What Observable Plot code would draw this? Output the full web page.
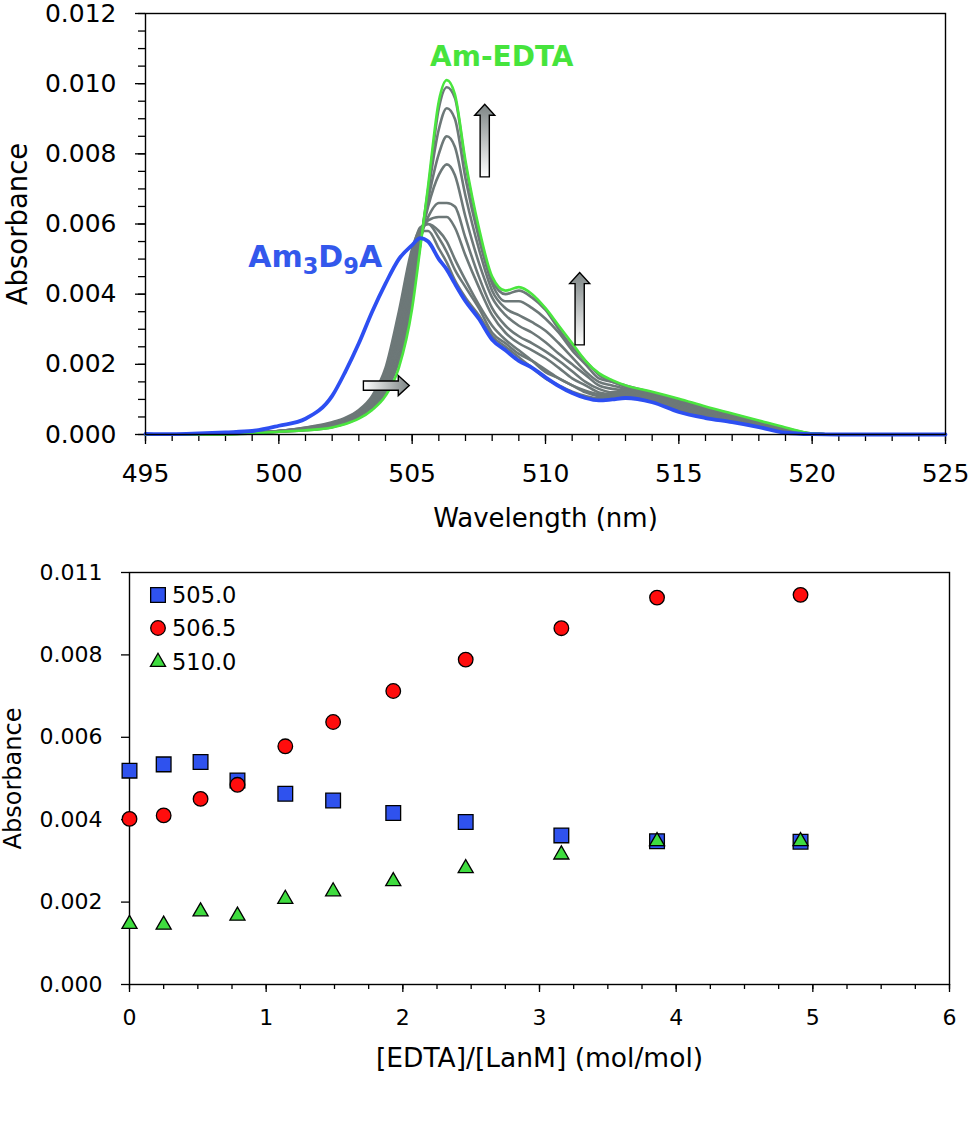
<!DOCTYPE html>
<html>
<head>
<meta charset="utf-8">
<script src="https://cdn.jsdelivr.net/npm/d3@7"></script>
<script src="https://cdn.jsdelivr.net/npm/@observablehq/plot@0.6"></script>
<style>
  html, body { margin: 0; padding: 0; background: #fff; }
  #wrap { position: relative; width: 969px; height: 1124px; background: #fff; font-family: "DejaVu Sans", sans-serif; }
  #wrap svg { display: block; }
  .legend { position: absolute; left: 148px; top: 578px; font-family: "DejaVu Sans", sans-serif; font-size: 22.5px; color: #000; }
  .legend .row { display: flex; align-items: center; height: 33.5px; }
  .legend svg { margin-right: 4px; }
</style>
</head>
<body>
<div id="wrap"></div>
<script>
// ---------- Top panel: spectra ----------
const wavelengths = [495,496,497,498,499,500,501,502,502.5,503,503.5,504,504.5,505,505.3,505.6,506,506.3,506.6,507,507.5,508,508.5,509,509.5,510,510.5,511,511.5,512,512.5,513,514,515,516,517,518,519,520,521,522,523,525];

const specAm3D9A = [0.00002,0.00001,0.00003,0.00006,0.0001,0.00025,0.00045,0.0011,0.0018,0.0026,0.0035,0.0043,0.005,0.0054,0.0056,0.0055,0.005,0.0047,0.0043,0.0038,0.0033,0.0027,0.0024,0.0021,0.0019,0.00163,0.00138,0.00118,0.00104,0.00097,0.001,0.00104,0.00092,0.00064,0.00047,0.00035,0.00021,0.00005,0.00001,0,0,0,0];
const specAmEDTA = [0,0,0,0,0.00003,0.00008,0.00012,0.0002,0.0003,0.00045,0.0007,0.0011,0.0019,0.0036,0.0053,0.0071,0.0095,0.0101,0.0097,0.0078,0.0059,0.0045,0.0041,0.0042,0.004,0.0036,0.0031,0.0026,0.0021,0.00175,0.00155,0.0014,0.00122,0.00102,0.0008,0.0006,0.0004,0.0002,0.00003,0,0,0,0];
const specG1 = [0,0,0,0.00002,0.00005,0.0001,0.0002,0.00035,0.00048,0.0007,0.0011,0.0019,0.0035,0.0053,0.0058,0.0058,0.0053,0.0049,0.0044,0.0039,0.0034,0.0028,0.0025,0.0022,0.0019,0.0016,0.0014,0.00122,0.0011,0.00103,0.00105,0.00108,0.00096,0.0007,0.0005,0.00038,0.00024,0.00008,0.00001,0,0,0,0];
const specG2 = [0,0,0,0.00002,0.00005,0.0001,0.00019,0.00033,0.00045,0.00067,0.00105,0.0018,0.0033,0.0052,0.0059,0.006,0.0056,0.0052,0.0047,0.0042,0.0036,0.0029,0.0026,0.0023,0.0021,0.00185,0.0016,0.0014,0.0012,0.0011,0.0011,0.0011,0.00098,0.00074,0.00054,0.0004,0.00026,0.0001,0.00002,0,0,0,0];
const specG3 = [0,0,0,0.00002,0.00005,0.0001,0.00018,0.00031,0.00043,0.00064,0.001,0.0017,0.0031,0.005,0.0058,0.006,0.0058,0.0055,0.005,0.0044,0.0037,0.0031,0.0027,0.0024,0.0021,0.00178,0.0016,0.0014,0.00125,0.00115,0.00112,0.00112,0.001,0.00078,0.00057,0.00042,0.00028,0.0001,0.00002,0,0,0,0];
const specG4 = [0,0,0,0.00002,0.00005,0.0001,0.00017,0.0003,0.00041,0.0006,0.00095,0.0016,0.0029,0.0048,0.0057,0.0061,0.0062,0.0062,0.0059,0.0051,0.0042,0.0034,0.0029,0.0026,0.0024,0.00218,0.0019,0.0016,0.0014,0.0012,0.00115,0.00115,0.00105,0.00082,0.0006,0.00045,0.0003,0.00011,0.00002,0,0,0,0];
const specG5 = [0,0,0,0.00002,0.00005,0.0001,0.00016,0.00028,0.00039,0.00058,0.0009,0.0015,0.0027,0.0046,0.0056,0.0062,0.0066,0.0066,0.0065,0.0056,0.0045,0.0036,0.0031,0.0028,0.0026,0.00237,0.0021,0.0018,0.0015,0.0013,0.0012,0.0012,0.0011,0.00086,0.00064,0.00048,0.00031,0.00012,0.00002,0,0,0,0];
const specG6 = [0,0,0,0.00002,0.00004,0.00009,0.00015,0.00026,0.00037,0.00055,0.00085,0.0014,0.0025,0.0044,0.0055,0.0065,0.0074,0.0077,0.0074,0.0062,0.0049,0.0039,0.0034,0.0031,0.0029,0.00263,0.0023,0.002,0.0017,0.0014,0.0013,0.00125,0.00112,0.0009,0.00067,0.0005,0.00032,0.00013,0.00002,0,0,0,0];
const specG7 = [0,0,0,0.00002,0.00004,0.00009,0.00014,0.00024,0.00035,0.00052,0.0008,0.0013,0.0023,0.0042,0.0055,0.0067,0.008,0.0085,0.0082,0.0068,0.0053,0.0041,0.0036,0.0034,0.0032,0.00296,0.0026,0.0022,0.0018,0.0015,0.0014,0.0013,0.00115,0.00094,0.0007,0.00052,0.00034,0.00014,0.00002,0,0,0,0];
const specG8 = [0,0,0,0.00001,0.00004,0.00008,0.00013,0.00022,0.00033,0.0005,0.00077,0.00125,0.0022,0.004,0.0054,0.0069,0.0087,0.0093,0.009,0.0073,0.0056,0.0043,0.0038,0.0038,0.0036,0.0033,0.0029,0.0024,0.002,0.0016,0.0015,0.00135,0.00118,0.00097,0.00074,0.00055,0.00036,0.00015,0.00002,0,0,0,0];
const specG9 = [0,0,0,0.00001,0.00003,0.00008,0.00012,0.00021,0.00031,0.00048,0.00074,0.0012,0.0021,0.0038,0.0054,0.007,0.0093,0.0099,0.0096,0.0077,0.0058,0.0044,0.004,0.0041,0.0039,0.00355,0.003,0.0025,0.0021,0.0017,0.0015,0.0014,0.0012,0.001,0.00077,0.00058,0.00038,0.00018,0.00003,0,0,0,0];

const graySpectra = [specG1, specG2, specG3, specG4, specG5, specG6, specG7, specG8, specG9];

const topYMajor = [0, 0.002, 0.004, 0.006, 0.008, 0.010, 0.012];
const topYMinor = d3.range(0, 0.01201, 0.0005);
const topXMajor = [495, 500, 505, 510, 515, 520, 525];
const topXMinor = d3.range(495, 525.01, 1);

// annotations (data units); subscript parts flagged with 1
const labelParts = [[["Am-EDTA", 0]], [["Am", 0], ["3", 1], ["D", 0], ["9", 1], ["A", 0]]];
const labelX = [505.69, 498.87];
const labelY = [0.0105, 0.00477];
const labelColor = ["#46e43c", "#3358ec"];
const labelSize = [28, 30];

const arrowTailX = [507.74, 511.3, 503.19];
const arrowTailY = [0.00733, 0.00254, 0.00138];
const arrowTipX = [507.74, 511.3, 504.91];
const arrowTipY = [0.0094, 0.0046, 0.00138];

// ---------- Bottom panel: titration ----------
const ratio = [0, 0.25, 0.52, 0.79, 1.14, 1.49, 1.93, 2.46, 3.16, 3.86, 4.91];
const abs505 = [0.00545, 0.00561, 0.00567, 0.0052, 0.00486, 0.00469, 0.00437, 0.00414, 0.0038, 0.00365, 0.00364];
const abs5065 = [0.00422, 0.00431, 0.00473, 0.00509, 0.00607, 0.00669, 0.00748, 0.00828, 0.00908, 0.00986, 0.00993];
const abs510 = [0.00154, 0.00152, 0.00186, 0.00175, 0.00218, 0.00237, 0.00263, 0.00296, 0.00331, 0.00365, 0.00365];

const seriesNames = ["505.0", "506.5", "510.0"];
const seriesSymbols = ["square", "circle", "triangle"];
const seriesFill = ["#2f52ee", "#ff0d0d", "#3fdc3f"];
const seriesR = [8.3, 7.3, 5.6];

const botYTicks = [0, 0.0021, 0.0042, 0.0063, 0.0084, 0.0105];
const botYLabels = ["0.000", "0.002", "0.004", "0.006", "0.008", "0.011"];
const botXTicks = [0, 1, 2, 3, 4, 5, 6];
const botXMinor = d3.range(0, 6.001, 0.25);

(function () {
  function rows(values, name) {
    return wavelengths.map((w, i) => ({w, a: values[i], series: name})).filter(d => d.a != null);
  }
  const grayRows = graySpectra.flatMap((s, k) => rows(s, "G" + (k + 1)));
  const greenRows = rows(specAmEDTA, "Am-EDTA");
  const blueRows = rows(specAm3D9A, "Am3D9A");
  const labels = labelParts.map((p, i) => ({p, x: labelX[i], y: labelY[i], c: labelColor[i], s: labelSize[i]}));
  const arrows = arrowTailX.map((x, i) => ({x1: x, y1: arrowTailY[i], x2: arrowTipX[i], y2: arrowTipY[i]}));

  function blockArrows(data) {
    return function (index, scales) {
      const g = d3.create("svg:g");
      const defs = g.append("defs");
      data.forEach((d, i) => {
        const tx = scales.x(d.x1), ty = scales.y(d.y1);
        const px = scales.x(d.x2), py = scales.y(d.y2);
        const id = "arrgrad" + i;
        const len = Math.hypot(px - tx, py - ty);
        const ang = Math.atan2(py - ty, px - tx) * 180 / Math.PI;
        const grad = defs.append("linearGradient").attr("id", id)
          .attr("gradientUnits", "userSpaceOnUse")
          .attr("x1", 0).attr("y1", 0).attr("x2", len).attr("y2", 0);
        grad.append("stop").attr("offset", "0%").attr("stop-color", "#ffffff");
        grad.append("stop").attr("offset", "100%").attr("stop-color", "#7d8585");
        const sw = 4.6, hw = 10, hl = 11;
        const path = `M0,${-sw}L${len - hl},${-sw}L${len - hl},${-hw}L${len},0L${len - hl},${hw}L${len - hl},${sw}L0,${sw}Z`;
        g.append("path").attr("d", path)
          .attr("transform", `translate(${tx},${ty}) rotate(${ang})`)
          .attr("fill", `url(#${id})`).attr("stroke", "#000").attr("stroke-width", 1.4);
      });
      return g.node();
    };
  }

  function richLabels(data) {
    return function (index, scales) {
      const g = d3.create("svg:g").attr("text-anchor", "start");
      data.forEach(d => {
        const t = g.append("text")
          .attr("x", scales.x(d.x)).attr("y", scales.y(d.y))
          .attr("text-anchor", "start")
          .attr("fill", d.c).attr("font-weight", "bold").attr("font-size", d.s)
          .attr("font-family", "DejaVu Sans");
        d.p.forEach(([txt, sub], j) => {
          const prev = j > 0 ? d.p[j - 1][1] : 0;
          t.append("tspan")
            .attr("font-size", sub ? d.s * 0.75 : d.s)
            .attr("dy", sub && !prev ? 7 : (!sub && prev ? -7 : 0))
            .text(txt);
        });
      });
      return g.node();
    };
  }

  const wrap = document.getElementById("wrap");

  const topChart = Plot.plot({
    width: 969, height: 545,
    marginLeft: 145, marginRight: 24, marginTop: 13, marginBottom: 111,
    style: {fontFamily: "DejaVu Sans", fontSize: "25px", color: "#000", background: "#fff", overflow: "visible"},
    x: {domain: [495, 525]},
    y: {domain: [0, 0.012]},
    marks: [
      Plot.axisY({ticks: topYMinor, tickSize: 7, tickFormat: () => "", label: null, strokeWidth: 1.3}),
      Plot.axisY({ticks: topYMajor, tickSize: 10, tickPadding: 19, tickFormat: d3.format(".3f"), strokeWidth: 1.3,
        label: "Absorbance", labelAnchor: "center", labelOffset: 138, labelArrow: "none"}),
      Plot.axisX({ticks: topXMinor, tickSize: 7, tickFormat: () => "", label: null, strokeWidth: 1.3}),
      Plot.axisX({ticks: topXMajor, tickSize: 10, tickPadding: 20, tickFormat: d => String(d), strokeWidth: 1.3,
        label: "Wavelength (nm)", labelAnchor: "center", labelOffset: 92, labelArrow: "none"}),
      Plot.line(grayRows, {x: "w", y: "a", z: "series", stroke: "#6d7878", strokeWidth: 2.6, curve: "monotone-x"}),
      Plot.line(greenRows, {x: "w", y: "a", stroke: "#4ae63e", strokeWidth: 2.6, curve: "monotone-x"}),
      Plot.line(blueRows, {x: "w", y: "a", stroke: "#2d4ff2", strokeWidth: 3.8, curve: "monotone-x"}),
      Plot.frame({stroke: "#000", strokeWidth: 1.4}),
      blockArrows(arrows),
      richLabels(labels)
    ]
  });
  wrap.appendChild(topChart);

  const botRows = [abs505, abs5065, abs510].map((vals, k) =>
    ratio.map((r, i) => ({r, a: vals[i], series: seriesNames[k]})));

  const bottomChart = Plot.plot({
    width: 969, height: 579,
    marginLeft: 129, marginRight: 20, marginTop: 27, marginBottom: 140,
    style: {fontFamily: "DejaVu Sans", fontSize: "22px", color: "#000", background: "#fff", overflow: "visible"},
    x: {domain: [0, 6]},
    y: {domain: [0, 0.0105]},
    marks: [
      Plot.axisY({ticks: botYTicks, tickSize: 8, tickPadding: 19, tickFormat: d => botYLabels[botYTicks.indexOf(d)],
        strokeWidth: 1.3, label: "Absorbance", labelAnchor: "center", labelOffset: 126, labelArrow: "none"}),
      Plot.axisX({ticks: botXMinor, tickSize: 5, tickFormat: () => "", label: null, strokeWidth: 1.3}),
      Plot.axisX({ticks: botXTicks, tickSize: 8, tickPadding: 17, tickFormat: d => String(d), strokeWidth: 1.3,
        label: "[EDTA]/[LanM] (mol/mol)", labelAnchor: "center", labelOffset: 82, labelArrow: "none"}),
      Plot.frame({stroke: "#000", strokeWidth: 1.4}),
      ...[0, 1, 2].map(k => Plot.dot(botRows[k], {x: "r", y: "a", symbol: seriesSymbols[k], r: seriesR[k],
        fill: seriesFill[k], stroke: "#000", strokeWidth: 1.3}))
    ]
  });
  wrap.appendChild(bottomChart);

  // axis-title sizes (titles are larger than tick labels in the reference)
  function styleTitles(svg, xSize, ySize) {
    d3.select(svg).selectAll("text").each(function () {
      if (/[\u2191\u2192]/.test(this.textContent)) this.textContent = this.textContent.replace(/\s*[\u2191\u2192]\s*/g, "");
    });
    d3.select(svg).selectAll('[aria-label="x-axis label"]').attr("font-size", xSize);
    d3.select(svg).selectAll('[aria-label="y-axis label"]').attr("font-size", ySize);
  }
  styleTitles(topChart, 26, 27.5);
  styleTitles(bottomChart, 26.5, 24);

  // legend (inside bottom panel, top-left)
  const legend = document.createElement("div");
  legend.className = "legend";
  const symMap = {square: d3.symbolSquare, circle: d3.symbolCircle, triangle: d3.symbolTriangle};
  seriesNames.forEach((name, k) => {
    const row = document.createElement("div");
    row.className = "row";
    const s = d3.create("svg").attr("width", 20).attr("height", 20);
    s.append("path").attr("transform", "translate(10,10)")
      .attr("d", d3.symbol(symMap[seriesSymbols[k]], Math.PI * seriesR[k] * seriesR[k])())
      .attr("fill", seriesFill[k]).attr("stroke", "#000").attr("stroke-width", 1.3);
    row.appendChild(s.node());
    const t = document.createElement("span");
    t.textContent = name;
    row.appendChild(t);
    legend.appendChild(row);
  });
  wrap.appendChild(legend);
})();
</script>
</body>
</html>
